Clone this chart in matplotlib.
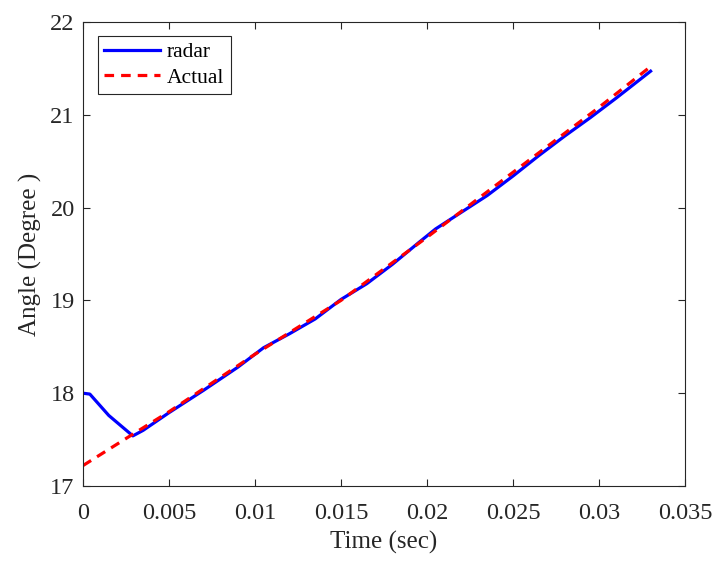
import numpy as np
import matplotlib
matplotlib.use('Agg')
import matplotlib.pyplot as plt

plt.rcParams['font.family'] = ['Liberation Serif', 'DejaVu Serif']
plt.rcParams['mathtext.fontset'] = 'stix'

# radar-estimated angle
radar_t = [0.0, 0.0004, 0.0015, 0.0029, 0.0035, 0.005, 0.007, 0.009, 0.0105,
           0.012, 0.0135, 0.015, 0.0165, 0.018, 0.0195, 0.0205, 0.022,
           0.0235, 0.025, 0.0265, 0.028, 0.0295, 0.031, 0.033]
radar_deg = [18.00, 17.99, 17.76, 17.54, 17.60, 17.79, 18.03, 18.28, 18.49,
             18.64, 18.80, 19.01, 19.18, 19.39, 19.62, 19.77, 19.95,
             20.13, 20.34, 20.56, 20.77, 20.97, 21.18, 21.47]

# actual angle
actual_t = [0.0, 0.003, 0.005, 0.01, 0.015, 0.02, 0.025, 0.03, 0.033]
actual_deg = [17.22, 17.57, 17.80, 18.42, 19.00, 19.68, 20.38, 21.08, 21.52]

fig = plt.figure(figsize=(7.16, 5.61), dpi=100)
ax = fig.add_axes([0.1159, 0.1337, 0.8408, 0.8271])

ax.plot(radar_t, radar_deg, color='#0000ff', linewidth=2.3, label='radar')
ax.plot(actual_t, actual_deg, color='#ff0000', linewidth=2.3,
        linestyle=(0, (3, 2.2)), label='Actual')

ax.set_xlim(0, 0.035)
ax.set_ylim(17, 22)
ax.set_xticks(np.arange(0, 0.0351, 0.005))
ax.set_xticklabels(['0', '0.005', '0.01', '0.015', '0.02', '0.025', '0.03', '0.035'])
ax.set_yticks([17, 18, 19, 20, 21, 22])

edge = '#262626'
for s in ax.spines.values():
    s.set_color(edge)
    s.set_linewidth(0.8)
ax.tick_params(direction='in', top=True, right=True, length=5, width=0.8,
               color=edge, labelsize=17.5, labelcolor=edge)
ax.tick_params(axis='x', pad=12)
ax.tick_params(axis='y', pad=6)

ax.set_xlabel('Time (sec)', fontsize=18, color=edge, labelpad=5)
ax.set_ylabel('Angle (Degree )', fontsize=18, color=edge, labelpad=6)

leg = ax.legend(loc='upper left', bbox_to_anchor=(0.025, 0.97), fontsize=15.5,
                fancybox=False, framealpha=1, edgecolor=edge, handlelength=2.6,
                handletextpad=0.3, borderpad=0.3, labelspacing=0.25,
                borderaxespad=0)
leg.get_frame().set_linewidth(0.8)

fig.savefig('out.png', dpi=100)
